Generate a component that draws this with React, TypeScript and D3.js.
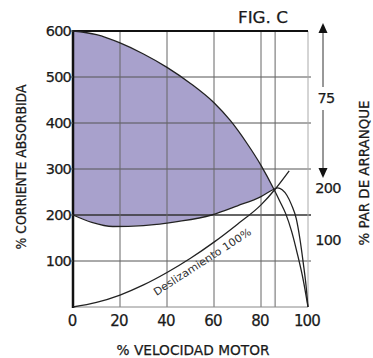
import React from 'react';
import * as d3 from 'd3';

// % corriente absorbida vs % velocidad
const currentCurve: [number, number][] = [
  [0, 600], [10, 592], [20, 574], [30, 550], [40, 521], [50, 486],
  [60, 444], [67, 405], [74, 356], [80, 308], [85.5, 256], [88, 230],
  [90.5, 203], [93, 165], [95.5, 115], [98, 58], [100, 0],
];
// par de arranque (same left scale)
const torqueCurve: [number, number][] = [
  [0, 200], [8, 184], [17, 175], [30, 177], [45, 186], [59, 200], [70, 220],
  [80, 240], [85.5, 256], [87, 259], [89, 255], [91, 243], [93, 222],
  [95, 192], [96.5, 150], [98, 95], [99.2, 45], [100, 0],
];
// Deslizamiento 100%
const slipLine: [number, number][] = [
  [0, 0], [10, 10], [20, 26], [30, 48], [40, 75], [50, 106], [60, 141],
  [70, 180], [80, 222], [86, 256], [92, 296],
];

const xTicks = [0, 20, 40, 60, 80, 100];
const xExtraLine = 86;
const yTicks = [100, 200, 300, 400, 500, 600];
const rightTicks = [100, 200];
const arrowLabel = '75';

const W = 373;
const H = 358;
const FONT = '"DejaVu Sans", sans-serif';

export default function App() {
  const x = d3.scaleLinear().domain([0, 100]).range([73, 308]);
  const y = d3.scaleLinear().domain([0, 600]).range([307, 31]);
  const yRight = d3.scaleLinear().domain([100, 200]).range([240, 188]);

  const line = d3.line<[number, number]>()
    .x(d => x(d[0]))
    .y(d => y(d[1]))
    .curve(d3.curveMonotoneX);

  // shaded area: purple under current curve, then white under torque curve
  const cross = 85.5;
  const under = d3.area<[number, number]>()
    .x(d => x(d[0]))
    .y0(y(0))
    .y1(d => y(d[1]))
    .curve(d3.curveMonotoneX);
  const topPart = currentCurve.filter(d => d[0] <= cross);
  const botPart = torqueCurve.filter(d => d[0] <= cross);

  const arrowX = 323;
  const txt = { fill: '#1a1a1a', stroke: '#1a1a1a', strokeWidth: 0.25 };

  return (
    <svg width={W} height={H} style={{ position: 'absolute', left: 0, top: 0, background: '#fff' }} fontFamily={FONT}>
      <path d={under(topPart) || ''} fill="#a8a1cc" />
      <path d={under(botPart) || ''} fill="#fff" stroke="#fff" strokeWidth={0.5} />

      {/* grid */}
      {yTicks.filter(t => t < 600).map(t => (
        <line key={'h' + t} x1={x(0)} x2={x(100) + 3} y1={y(t)} y2={y(t)}
          stroke={t === 200 ? '#333' : '#555'} strokeWidth={t === 200 ? 1.3 : 1} />
      ))}
      {xTicks.filter(t => t > 0 && t < 100).concat([xExtraLine]).map(t => (
        <line key={'v' + t} x1={x(t)} x2={x(t)} y1={y(600)} y2={y(0)} stroke="#666" strokeWidth={1} />
      ))}
      <line x1={x(100)} x2={x(100)} y1={y(600)} y2={y(0)} stroke="#aaa" strokeWidth={1} />
      <line x1={x(0)} x2={x(100)} y1={y(0)} y2={y(0)} stroke="#888" strokeWidth={1} />
      <line x1={x(0)} x2={x(100)} y1={y(600)} y2={y(600)} stroke="#111" strokeWidth={2} />
      <line x1={x(0)} x2={x(0)} y1={y(600) - 1} y2={y(0) + 1} stroke="#111" strokeWidth={2.5} />

      {/* curves */}
      <path d={line(currentCurve) || ''} fill="none" stroke="#222" strokeWidth={1.3} />
      <path d={line(torqueCurve) || ''} fill="none" stroke="#222" strokeWidth={1.3} />
      <path d={line(slipLine) || ''} fill="none" stroke="#222" strokeWidth={1.3} />

      <text transform={`translate(${x(35.5)},${y(24)}) rotate(-33)`} fontSize={10.5} fill="#333"
        textLength={114} lengthAdjust="spacingAndGlyphs">Deslizamiento 100%</text>

      {/* left ticks */}
      {yTicks.map(t => (
        <g key={'yl' + t}>
          <line x1={x(0) - 3} x2={x(0)} y1={y(t)} y2={y(t)} stroke="#555" />
          <text x={x(0) - 2} y={y(t)} dy="0.36em" textAnchor="end" fontSize={14.5} {...txt}
            letterSpacing={-0.8}>{t}</text>
        </g>
      ))}
      {/* bottom ticks */}
      {xTicks.map(t => (
        <text key={'xl' + t} x={x(t) - 1} y={326} textAnchor="middle" fontSize={15} {...txt}
          letterSpacing={-0.8}>{t}</text>
      ))}

      {/* right annotation */}
      <line x1={arrowX} x2={arrowX} y1={32} y2={87} stroke="#333" strokeWidth={1} />
      <line x1={arrowX} x2={arrowX} y1={110} y2={170} stroke="#333" strokeWidth={1} />
      <path d={`M${arrowX},23 L${arrowX - 4.5},33 L${arrowX + 4.5},33 Z`} fill="#111" />
      <path d={`M${arrowX},178 L${arrowX - 4.5},168 L${arrowX + 4.5},168 Z`} fill="#111" />
      <text x={326} y={98} dy="0.36em" textAnchor="middle" fontSize={14.5} {...txt} letterSpacing={-0.8}>{arrowLabel}</text>
      {rightTicks.map(t => (
        <text key={'yr' + t} x={328} y={yRight(t)} dy="0.36em" textAnchor="middle" fontSize={14.5} {...txt}
          letterSpacing={-0.8}>{t}</text>
      ))}

      {/* titles */}
      <text x={263} y={23} textAnchor="middle" fontSize={15} {...txt} textLength={50}
        lengthAdjust="spacingAndGlyphs">FIG. C</text>
      <text x={193} y={355} textAnchor="middle" fontSize={13.5} {...txt} textLength={153}
        lengthAdjust="spacingAndGlyphs">% VELOCIDAD MOTOR</text>
      <text transform="translate(26,167) rotate(-90)" textAnchor="middle" fontSize={13.5} {...txt}
        textLength={165} lengthAdjust="spacingAndGlyphs">% CORRIENTE ABSORBIDA</text>
      <text transform="translate(369,173) rotate(-90)" textAnchor="middle" fontSize={13.5} {...txt}
        textLength={145} lengthAdjust="spacingAndGlyphs">% PAR DE ARRANQUE</text>
    </svg>
  );
}
